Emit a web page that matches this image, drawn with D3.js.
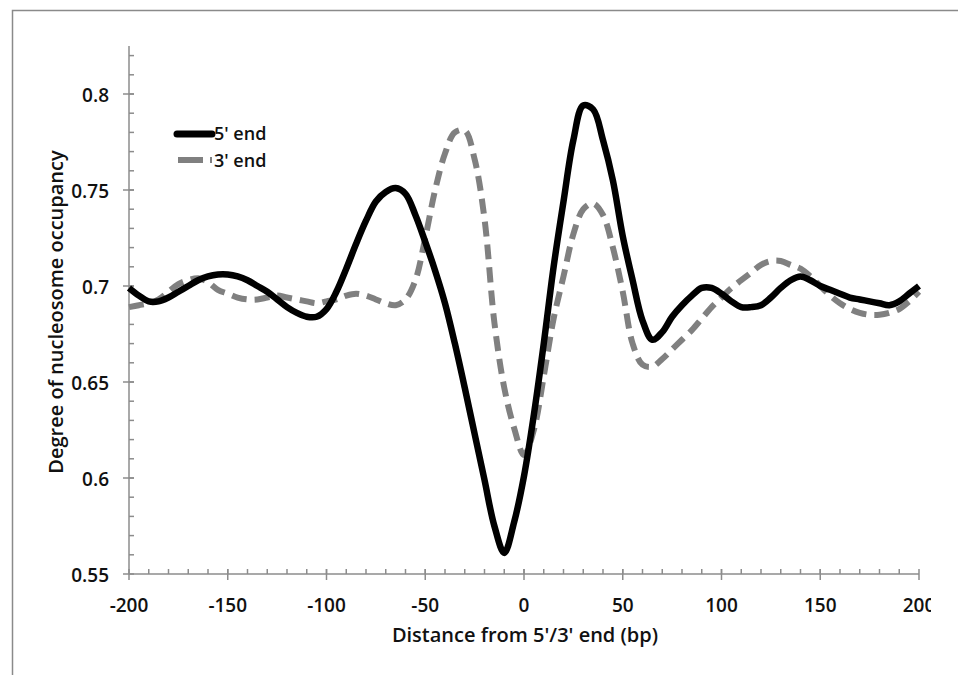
<!DOCTYPE html>
<html lang="en">
<head>
	<meta charset="utf-8">
	<title>Nucleosome occupancy</title>
	<style>
		body { margin: 0; background: #fff; }
		text { font-family: "Open Sans", sans-serif; font-weight: 600; fill: #111; }
		.axis-line, .tick-line { stroke: #8c8c8c; stroke-width: 1.5px; fill: none; }
		.five { fill: none; stroke: #000; stroke-width: 6.5px; }
		.three { fill: none; stroke: #808080; stroke-width: 6px; stroke-dasharray: 15,8; }
	</style>
</head>
<body>
	<div id="chart"></div>

	<script src="https://cdn.jsdelivr.net/npm/d3@7"></script>
	<script>
		// distance (bp), 5 bp steps
		var distance = d3.range(-200, 201, 5);

		var fiveEnd = [
			0.699, 0.695, 0.692, 0.692, 0.694, 0.697, 0.700, 0.703, 0.705, 0.706,
			0.706, 0.705, 0.703, 0.700, 0.697, 0.693, 0.689, 0.686, 0.684, 0.684,
			0.688, 0.697, 0.709, 0.722, 0.734, 0.744, 0.749, 0.751, 0.748, 0.737,
			0.723, 0.708, 0.691, 0.670, 0.647, 0.623, 0.599, 0.575, 0.561, 0.577,
			0.601, 0.633, 0.670, 0.710, 0.744, 0.776, 0.794, 0.792, 0.776, 0.755,
			0.726, 0.703, 0.682, 0.672, 0.676, 0.684, 0.690, 0.695, 0.699, 0.699,
			0.696, 0.692, 0.689, 0.689, 0.690, 0.694, 0.699, 0.703, 0.705, 0.703,
			0.700, 0.698, 0.696, 0.694, 0.693, 0.692, 0.691, 0.690, 0.692, 0.696,
			0.700
		];

		var threeEnd = [
			0.689, 0.690, 0.691, 0.693, 0.697, 0.701, 0.703, 0.704, 0.702, 0.698,
			0.696, 0.694, 0.693, 0.693, 0.694, 0.695, 0.694, 0.693, 0.692, 0.691,
			0.692, 0.693, 0.695, 0.696, 0.695, 0.693, 0.691, 0.690, 0.693, 0.703,
			0.725, 0.750, 0.769, 0.780, 0.781, 0.766, 0.735, 0.681, 0.647, 0.626,
			0.612, 0.625, 0.653, 0.683, 0.705, 0.727, 0.740, 0.743, 0.737, 0.720,
			0.697, 0.670, 0.659, 0.658, 0.662, 0.667, 0.672, 0.677, 0.683, 0.689,
			0.694, 0.699, 0.703, 0.707, 0.711, 0.713, 0.713, 0.711, 0.709, 0.705,
			0.700, 0.695, 0.691, 0.688, 0.686, 0.685, 0.685, 0.686, 0.688, 0.692,
			0.697
		];

		var xTicks = [-200, -150, -100, -50, 0, 50, 100, 150, 200];
		var yTicks = [0.55, 0.6, 0.65, 0.7, 0.75, 0.8];

		var width = 958,
		    height = 675;

		var svg = d3.select("#chart")
				.append("svg")
				.attr("width", width)
				.attr("height", height);

		// frame
		svg.append("path")
			.attr("d", "M12.5," + height + "V10.5H" + width)
			.attr("fill", "none")
			.attr("stroke", "#8a8a8a")
			.attr("stroke-width", 1.5);

		var x = d3.scaleLinear().domain([-200, 200]).range([129, 919]);
		var y = d3.scaleLinear().domain([0.55, 0.8]).range([574, 94]);

		// clip like the original (last label cut off at the right)
		svg.append("clipPath").attr("id", "cut")
			.append("rect").attr("x", 0).attr("y", 0).attr("width", 931).attr("height", height);

		// y axis
		var yAxis = svg.append("g");
		yAxis.append("line").attr("class", "axis-line")
			.attr("x1", x(-200)).attr("x2", x(-200))
			.attr("y1", y(0.825)).attr("y2", y(0.55));
		yAxis.selectAll(".ymin")
			.data(d3.range(56, 83).map(function(d) { return d / 100; }))
		.enter().append("line").attr("class", "tick-line")
			.attr("x1", x(-200)).attr("x2", x(-200) + 5)
			.attr("y1", function(d) { return y(d); })
			.attr("y2", function(d) { return y(d); });
		yAxis.selectAll(".ymaj")
			.data(yTicks)
		.enter().append("line").attr("class", "tick-line")
			.attr("x1", x(-200) - 6).attr("x2", x(-200) + 5)
			.attr("y1", function(d) { return y(d); })
			.attr("y2", function(d) { return y(d); });
		yAxis.selectAll(".ylab")
			.data(yTicks)
		.enter().append("text")
			.attr("x", 109)
			.attr("y", function(d) { return y(d) + 8; })
			.attr("text-anchor", "end")
			.style("font-size", "19px")
			.text(function(d) { return String(d); });

		// x axis
		var xAxis = svg.append("g");
		xAxis.append("line").attr("class", "axis-line")
			.attr("x1", x(-200)).attr("x2", x(200))
			.attr("y1", y(0.55)).attr("y2", y(0.55));
		xAxis.selectAll(".xmin")
			.data(d3.range(-190, 200, 10))
		.enter().append("line").attr("class", "tick-line")
			.attr("x1", function(d) { return x(d); })
			.attr("x2", function(d) { return x(d); })
			.attr("y1", y(0.55)).attr("y2", y(0.55) - 5);
		xAxis.selectAll(".xmaj")
			.data(xTicks)
		.enter().append("line").attr("class", "tick-line")
			.attr("x1", function(d) { return x(d); })
			.attr("x2", function(d) { return x(d); })
			.attr("y1", y(0.55) - 5).attr("y2", y(0.55) + 6);
		xAxis.append("g").attr("clip-path", "url(#cut)")
			.selectAll(".xlab")
			.data(xTicks)
		.enter().append("text")
			.attr("x", function(d) { return x(d); })
			.attr("y", 612)
			.attr("text-anchor", "middle")
			.style("font-size", "19px")
			.text(function(d) { return String(d); });

		// axis titles
		svg.append("text")
			.attr("x", 525).attr("y", 642)
			.attr("text-anchor", "middle")
			.style("font-size", "20px")
			.text("Distance from 5'/3' end (bp)");
		svg.append("text")
			.attr("transform", "translate(63,312) rotate(-90)")
			.attr("text-anchor", "middle")
			.style("font-size", "20px")
			.text("Degree of nucleosome occupancy");

		// lines
		var line = d3.line()
			.x(function(d) { return x(d[0]); })
			.y(function(d) { return y(d[1]); })
			.curve(d3.curveCatmullRom.alpha(0.5));

		svg.append("path").attr("class", "three")
			.attr("d", line(d3.zip(distance, threeEnd)));
		svg.append("path").attr("class", "five")
			.attr("d", line(d3.zip(distance, fiveEnd)));

		// legend
		var legend = svg.append("g");
		legend.append("line")
			.attr("x1", 177).attr("x2", 212).attr("y1", 134).attr("y2", 134)
			.attr("stroke", "#000").attr("stroke-width", 7).attr("stroke-linecap", "round");
		legend.append("text").attr("x", 214).attr("y", 140)
			.style("font-size", "18px").text("5' end");
		legend.append("line")
			.attr("x1", 178).attr("x2", 203).attr("y1", 160).attr("y2", 160)
			.attr("stroke", "#808080").attr("stroke-width", 6);
		legend.append("line")
			.attr("x1", 210).attr("x2", 212).attr("y1", 160).attr("y2", 160)
			.attr("stroke", "#808080").attr("stroke-width", 6);
		legend.append("text").attr("x", 214).attr("y", 167)
			.style("font-size", "18px").text("3' end");
	</script>
</body>
</html>
